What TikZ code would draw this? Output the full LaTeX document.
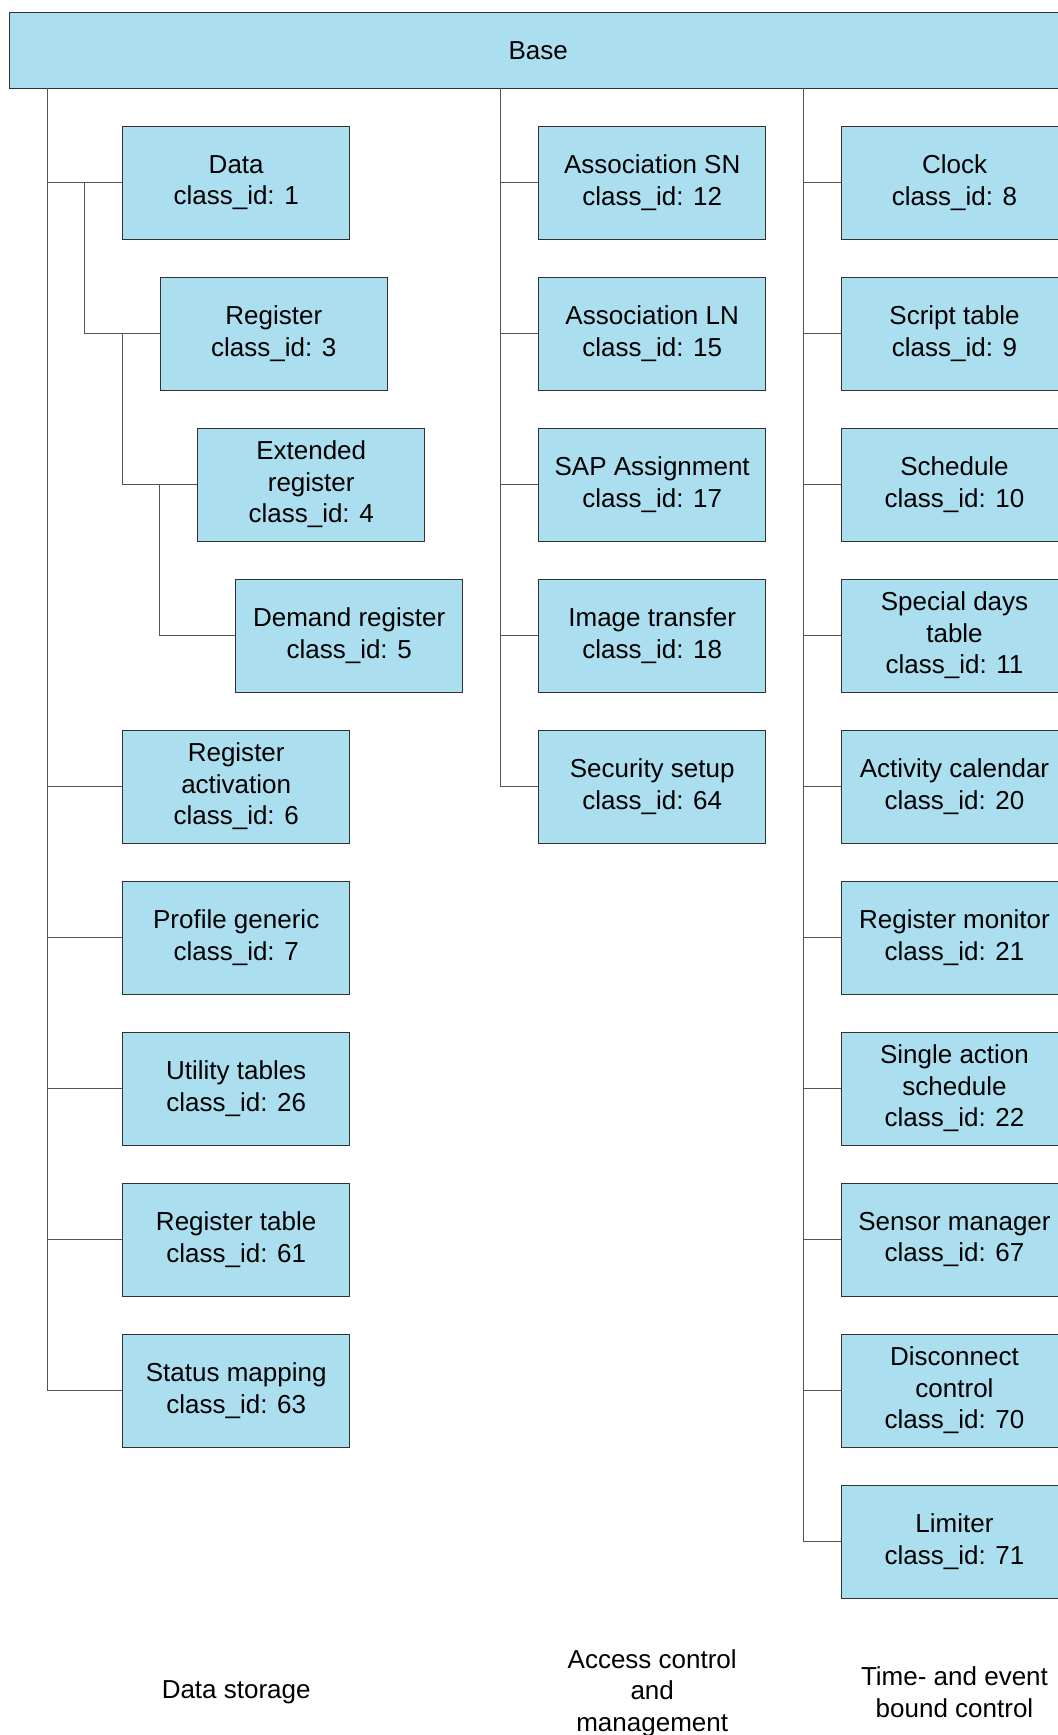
\documentclass[tikz,border=0pt]{standalone}
\usepackage{fontspec}
\setmainfont{Liberation Sans}
\usepackage{xcolor}
\usepackage{tikz}
\usetikzlibrary{positioning}
\definecolor{boxblue}{RGB}{171,223,240}
\definecolor{boxline}{RGB}{50,50,50}
\definecolor{treeline}{RGB}{85,85,85}
\tikzset{
    classbox/.style = {rectangle, draw=boxline, fill=boxblue, align=center, line width=0.5pt,
        minimum width=4.54cm, minimum height=2.26cm, inner sep=0pt,
        font=\fontsize{14.8}{18}\selectfont},
    basebox/.style = {rectangle, draw=boxline, fill=boxblue, line width=0.6pt,
        minimum width=21.15cm, minimum height=1.51cm, inner sep=0pt,
        font=\fontsize{14.8}{18}\selectfont},
    grouplabel/.style = {align=center, font=\fontsize{14.8}{18}\selectfont},
    link/.style = {-, draw=treeline, line width=0.55pt}
}

\begin{document}
\begin{tikzpicture}[x=0.02cm, y=-0.02cm]
\useasboundingbox (0,0) rectangle (1058,1735);
\clip (0,0) rectangle (1058,1735);
\node[basebox] at (538.2,50.3) (base) {Base};
% data storage
\node[classbox] at (236.2,182.5) (data) {Data\\class\_id: 1};
\node[classbox] at (273.8,333.5) (reg) {Register\\class\_id: 3};
\node[classbox] at (311.2,484.5) (extreg) {Extended\\register\\class\_id: 4};
\node[classbox] at (349.2,635.5) (demreg) {Demand register\\class\_id: 5};
\node[classbox] at (236.2,786.5) (regact) {Register\\activation\\class\_id: 6};
\node[classbox] at (236.2,937.5) (profile) {Profile generic\\class\_id: 7};
\node[classbox] at (236.2,1088.5) (utiltab) {Utility tables\\class\_id: 26};
\node[classbox] at (236.2,1239.5) (regtab) {Register table\\class\_id: 61};
\node[classbox] at (236.2,1390.5) (statmap) {Status mapping\\class\_id: 63};
% access control and management
\node[classbox] at (652.2,182.5) (assocsn) {Association SN\\class\_id: 12};
\node[classbox] at (652.2,333.5) (assocln) {Association LN\\class\_id: 15};
\node[classbox] at (652.2,484.5) (sap) {SAP Assignment\\class\_id: 17};
\node[classbox] at (652.2,635.5) (image) {Image transfer\\class\_id: 18};
\node[classbox] at (652.2,786.5) (security) {Security setup\\class\_id: 64};
% time- and event bound control
\node[classbox] at (954.5,182.5) (clock) {Clock\\class\_id: 8};
\node[classbox] at (954.5,333.5) (script) {Script table\\class\_id: 9};
\node[classbox] at (954.5,484.5) (sched) {Schedule\\class\_id: 10};
\node[classbox] at (954.5,635.5) (special) {Special days\\table\\class\_id: 11};
\node[classbox] at (954.5,786.5) (activity) {Activity calendar\\class\_id: 20};
\node[classbox] at (954.5,937.5) (regmon) {Register monitor\\class\_id: 21};
\node[classbox] at (954.5,1088.5) (single) {Single action\\schedule\\class\_id: 22};
\node[classbox] at (954.5,1239.5) (sensor) {Sensor manager\\class\_id: 67};
\node[classbox] at (954.5,1390.5) (disconn) {Disconnect\\control\\class\_id: 70};
\node[classbox] at (954.5,1541.5) (limiter) {Limiter\\class\_id: 71};
%
\node[grouplabel] at (236.2,1692) (lbldata) {Data storage};
\node[grouplabel] at (652.2,1693) (lblaccess) {Access control\\and\\management};
\node[grouplabel] at (954.5,1692) (lbltime) {Time- and event\\bound control};
%
\coordinate (tleft) at (47,88);
\coordinate (tmid) at (500.7,88);
\coordinate (tright) at (803.3,88);
%
\draw[link] (tleft) |- (statmap.west);
\foreach \n in {data,regact,profile,utiltab,regtab}
    \draw[link] (tleft |- \n.west) -- (\n.west);
\draw[link] (data.west) ++(-37.7,0) |- (reg.west);
\draw[link] (reg.west) ++(-37.6,0) |- (extreg.west);
\draw[link] (extreg.west) ++(-37.5,0) |- (demreg.west);
%
\draw[link] (tmid) |- (security.west);
\foreach \n in {assocsn,assocln,sap,image}
    \draw[link] (tmid |- \n.west) -- (\n.west);
%
\draw[link] (tright) |- (limiter.west);
\foreach \n in {clock,script,sched,special,activity,regmon,single,sensor,disconn}
    \draw[link] (tright |- \n.west) -- (\n.west);
\end{tikzpicture}
\end{document}
